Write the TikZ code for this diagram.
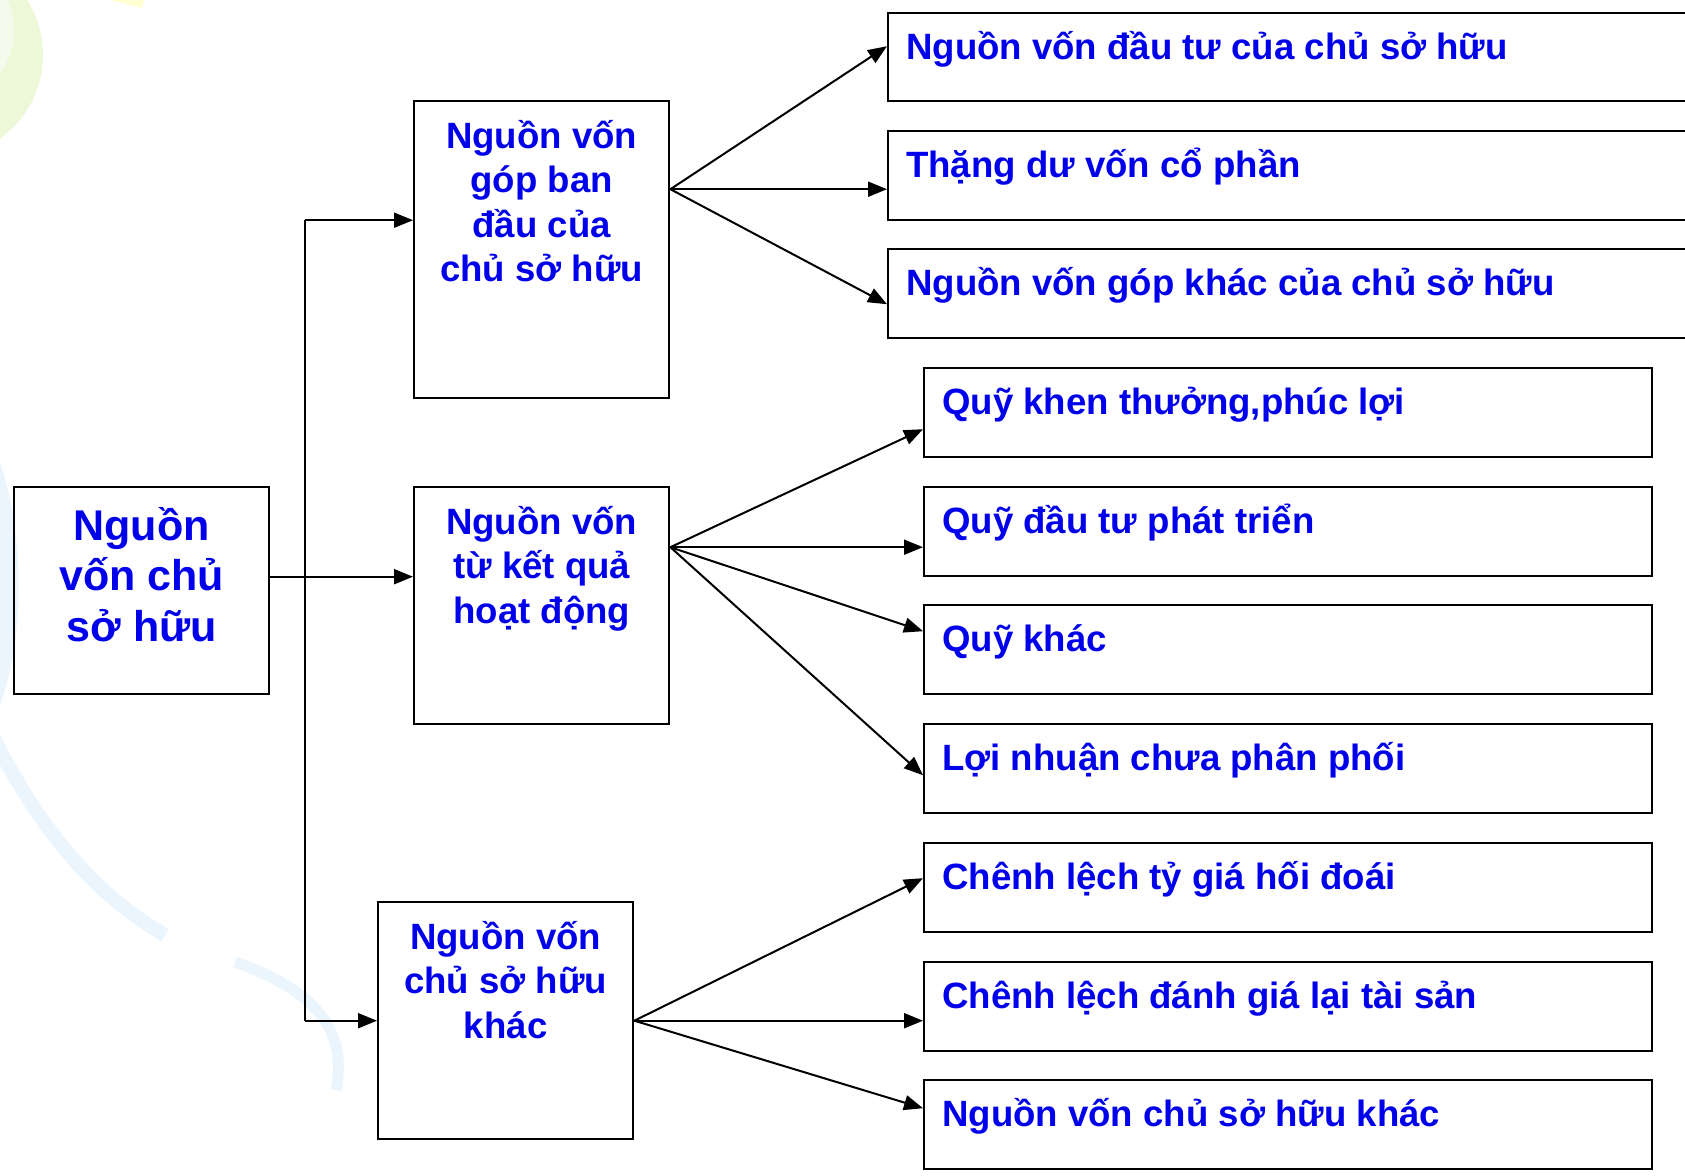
\documentclass[tikz,border=0pt]{standalone}
\usepackage{fontspec}
\setmainfont{Liberation Sans}
\usepackage{xcolor}
\usetikzlibrary{calc, arrows.meta, positioning}

\definecolor{ChuXanh}{RGB}{0,0,235}
\definecolor{NenXanh}{RGB}{234,245,253}
\definecolor{NenLuc}{RGB}{237,248,216}
\definecolor{NenLucNhat}{RGB}{245,251,236}
\definecolor{NenVang}{RGB}{255,255,210}

\tikzset{
    hop/.style={draw, line width=2.4pt, anchor=north west, inner sep=0pt},
    chu/.style={text=ChuXanh, align=center, anchor=base, inner sep=0pt,
        font=\bfseries\fontsize{36.6pt}{44.6pt}\selectfont},
    chugoc/.style={chu, font=\bfseries\fontsize{43pt}{50.5pt}\selectfont},
    chuphai/.style={text=ChuXanh, anchor=base west, inner sep=0pt,
        font=\bfseries\fontsize{36.6pt}{44.6pt}\selectfont},
    muiten/.style={->, line width=2pt},
}

\begin{document}
\begin{tikzpicture}[x=1pt, y=-1pt, >={Triangle[length=19pt, width=15pt]}]

    \clip (0,0) rectangle (1685,1175);

    % =================================================================
    % 0. HOA VĂN NỀN NHẠT (góc trên trái và vòng cung xanh bên trái)
    % =================================================================
    \fill[NenLuc] (-60,55) circle (103);
    \fill[NenLucNhat] (-60,30) circle (74);
    \fill[NenVang] (110,0) -- (144,0) -- (142,8) -- (126,4) -- cycle;
    \fill[NenXanh] (0,462) .. controls (26,540) and (24,640) .. (0,705) -- cycle;
    \draw[NenXanh, line width=14pt] (-8,735) .. controls (40,830) and (95,895) .. (165,935);
    \draw[NenXanh, line width=11pt] (235,962) .. controls (300,985) and (350,1020) .. (336,1090);

    % =================================================================
    % 1. CÁC Ô BÊN TRÁI (gốc và ba nhánh chính)
    % =================================================================
    \node[hop, minimum width=255pt, minimum height=207pt] (Root) at (13,486) {};
    \node[hop, minimum width=255pt, minimum height=297pt] (Initial) at (413,100) {};
    \node[hop, minimum width=255pt, minimum height=237pt] (Result) at (413,486) {};
    \node[hop, minimum width=255pt, minimum height=237pt] (Other) at (377,901) {};

    % neo base = dòng cuối của chữ
    \node[chugoc] (RootText) at ([yshift=-155pt]Root.north) {Nguồn\\vốn chủ\\sở hữu};
    \node[chu] (InitialText) at ([yshift=-181.8pt]Initial.north) {Nguồn vốn\\góp ban\\đầu của\\chủ sở hữu};
    \node[chu] (ResultText) at ([yshift=-137.2pt]Result.north) {Nguồn vốn\\từ kết quả\\hoạt động};
    \node[chu] (OtherText) at ([yshift=-137.2pt]Other.north) {Nguồn vốn\\chủ sở hữu\\khác};

    % =================================================================
    % 2. CÁC Ô BÊN PHẢI (khoản mục chi tiết)
    % =================================================================
    \node[hop, minimum width=820pt, minimum height=88pt] (OwnerCapital) at (887,12) {};
    \node[hop, minimum width=820pt, minimum height=89pt] (SharePremium) at (887,130) {};
    \node[hop, minimum width=820pt, minimum height=89pt] (OtherContrib) at (887,248) {};

    \node[hop, minimum width=728pt, minimum height=89pt] (BonusFund) at (923,367) {};
    \node[hop, minimum width=728pt, minimum height=89pt] (DevFund) at (923,486) {};
    \node[hop, minimum width=728pt, minimum height=89pt] (OtherFund) at (923,604) {};
    \node[hop, minimum width=728pt, minimum height=89pt] (Retained) at (923,723) {};
    \node[hop, minimum width=728pt, minimum height=89pt] (ExchDiff) at (923,842) {};
    \node[hop, minimum width=728pt, minimum height=89pt] (Revalue) at (923,961) {};
    \node[hop, minimum width=728pt, minimum height=89pt] (OtherEquity) at (923,1079) {};

    \node[chuphai] at ([shift={(19pt,-47pt)}]OwnerCapital.north west) {Nguồn vốn đầu tư của chủ sở hữu};
    \node[chuphai] at ([shift={(19pt,-47pt)}]SharePremium.north west) {Thặng dư vốn cổ phần};
    \node[chuphai] at ([shift={(19pt,-47pt)}]OtherContrib.north west) {Nguồn vốn góp khác của chủ sở hữu};
    \node[chuphai] at ([shift={(19pt,-47pt)}]BonusFund.north west) {Quỹ khen thưởng,phúc lợi};
    \node[chuphai] at ([shift={(19pt,-47pt)}]DevFund.north west) {Quỹ đầu tư phát triển};
    \node[chuphai] at ([shift={(19pt,-47pt)}]OtherFund.north west) {Quỹ khác};
    \node[chuphai] at ([shift={(19pt,-47pt)}]Retained.north west) {Lợi nhuận chưa phân phối};
    \node[chuphai] at ([shift={(19pt,-47pt)}]ExchDiff.north west) {Chênh lệch tỷ giá hối đoái};
    \node[chuphai] at ([shift={(19pt,-47pt)}]Revalue.north west) {Chênh lệch đánh giá lại tài sản};
    \node[chuphai] at ([shift={(19pt,-47pt)}]OtherEquity.north west) {Nguồn vốn chủ sở hữu khác};

    % =================================================================
    % 3. TRỤC DỌC VÀ MŨI TÊN TỪ Ô GỐC
    % =================================================================
    \coordinate (Bus) at (305,0);
    \coordinate (InitialIn) at ([yshift=29.5pt]Initial.west);
    \coordinate (ResultIn) at ([yshift=29pt]Result.west);
    \draw[line width=2pt] (Bus |- InitialIn) -- (Bus |- Other.west);
    \draw[muiten] (Root.east |- ResultIn) -- (ResultIn);
    \draw[muiten] (Bus |- InitialIn) -- (InitialIn);
    \draw[muiten] (Bus |- Other.west) -- (Other.west);

    % =================================================================
    % 4. MŨI TÊN TỪ CÁC NHÁNH SANG Ô CHI TIẾT
    % =================================================================
    \coordinate (InitialOut) at ([yshift=60.5pt]Initial.east);
    \draw[muiten] (InitialOut) -- ([yshift=11pt]OwnerCapital.west);
    \draw[muiten] (InitialOut) -- (SharePremium.west |- InitialOut);
    \draw[muiten] (InitialOut) -- ([yshift=-10.5pt]OtherContrib.west);

    \coordinate (ResultOut) at ([yshift=58.5pt]Result.east);
    \draw[muiten] (ResultOut) -- ([yshift=-16.5pt]BonusFund.west);
    \draw[muiten] (ResultOut) -- (DevFund.west |- ResultOut);
    \draw[muiten] (ResultOut) -- ([yshift=18.5pt]OtherFund.west);
    \draw[muiten] (ResultOut) -- ([yshift=-6.5pt]Retained.west);

    \draw[muiten] (Other.east) -- ([yshift=9.5pt]ExchDiff.west);
    \draw[muiten] (Other.east) -- (Revalue.west |- Other.east);
    \draw[muiten] (Other.east) -- ([yshift=16.5pt]OtherEquity.west);

\end{tikzpicture}
\end{document}
